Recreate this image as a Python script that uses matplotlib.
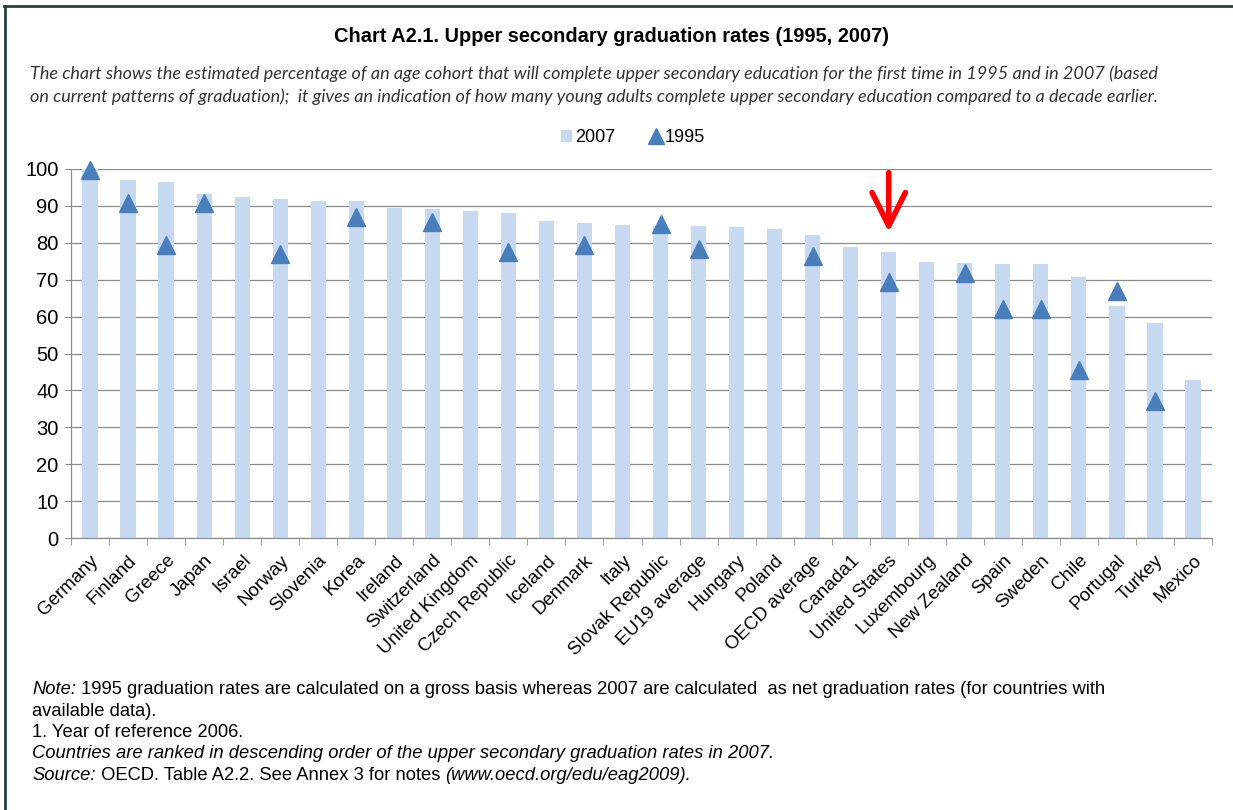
"""
Chart A2.1 - upper secondary graduation rates, 1995 vs 2007 (OECD EAG 2009).
Bars for 2007, triangles for 1995.
"""

import matplotlib
matplotlib.use("Agg")
import matplotlib.pyplot as plt
import matplotlib.patches as mpatches
from matplotlib.lines import Line2D


countries = [
    "Germany", "Finland", "Greece", "Japan", "Israel", "Norway", "Slovenia",
    "Korea", "Ireland", "Switzerland", "United Kingdom", "Czech Republic",
    "Iceland", "Denmark", "Italy", "Slovak Republic", "EU19 average",
    "Hungary", "Poland", "OECD average", "Canada1", "United States",
    "Luxembourg", "New Zealand", "Spain", "Sweden", "Chile", "Portugal",
    "Turkey", "Mexico",
]
rate_2007 = [
    100, 97, 96.4, 93.1, 92.5, 92.0, 91.4,
    91.4, 89.5, 89.2, 88.7, 88.2,
    86.0, 85.5, 84.9, 84.5, 84.6,
    84.2, 83.8, 82.1, 78.9, 77.5,
    74.8, 74.6, 74.2, 74.2, 70.7, 63.0,
    58.3, 42.7,
]
# None = no 1995 data
rate_1995 = [
    99.8, 90.9, 79.3, 90.7, None, 77.0, None,
    87.1, None, 85.7, None, 77.6,
    None, 79.4, None, 85.1, 78.4,
    None, None, 76.5, None, 69.4,
    None, 71.9, 62.0, 62.0, 45.4, 66.9,
    37.0, None,
]
yticks = list(range(0, 101, 10))
highlight = "United States"

BAR_COLOR = "#c6d9f0"
TRI_COLOR = "#4a7ebb"
GRID_COLOR = "#8c8c8c"
FRAME_COLOR = "#27423e"

plt.rcParams["font.family"] = ["Liberation Sans", "DejaVu Sans"]

fig = plt.figure(figsize=(12.33, 8.10), dpi=100)
fig.patch.set_facecolor("white")
ax = fig.add_axes([71 / 1233, 1 - 538 / 810, (1212 - 71) / 1233, (538 - 169) / 810])

x = list(range(len(countries)))
ax.bar(x, rate_2007, width=0.4, color=BAR_COLOR, zorder=2, label="2007")

xs = [i for i, v in zip(x, rate_1995) if v is not None]
ys = [v for v in rate_1995 if v is not None]
ax.plot(xs, ys, linestyle="none", marker="^", markersize=13.5, color=TRI_COLOR,
        zorder=3, clip_on=False, label="1995")

# red arrow pointing at the US bar
ix = countries.index(highlight)
ax.annotate("", xy=(ix, 82.9), xytext=(ix, 99.0),
            arrowprops=dict(arrowstyle="->, head_length=1.2, head_width=0.6",
                            color="#ff0000", lw=4, shrinkA=0, shrinkB=0,
                            mutation_scale=20),
            zorder=5, annotation_clip=False)

ax.set_xlim(-0.5, len(countries) - 0.5)
ax.set_ylim(0, 100)
ax.set_yticks(yticks)
ax.tick_params(axis="y", labelsize=14.5, length=4, color=GRID_COLOR, pad=5)
ax.yaxis.grid(True, color=GRID_COLOR, lw=0.9, zorder=0)
ax.set_axisbelow(True)

ax.set_xticks(x)
ax.set_xticklabels(countries, rotation=45, ha="right", rotation_mode="anchor",
                   fontsize=13.5)
ax.tick_params(axis="x", which="major", length=0, pad=10)
ax.set_xticks([i - 0.5 for i in range(len(countries) + 1)], minor=True)
ax.tick_params(axis="x", which="minor", length=5, color=GRID_COLOR)

for side in ("top", "right"):
    ax.spines[side].set_visible(False)
for side in ("left", "bottom"):
    ax.spines[side].set_color(GRID_COLOR)
    ax.spines[side].set_linewidth(0.9)

# titles
fig.text(611 / 1233, 1 - 37 / 810, "Chart A2.1. Upper secondary graduation rates (1995, 2007)",
         ha="center", va="center", fontsize=14.4, fontweight="bold")
sub = ("The chart shows the estimated percentage of an age cohort that will complete upper "
       "secondary education for the first time in 1995 and in 2007 (based\n"
       "on current patterns of graduation);  it gives an indication of how many young adults "
       "complete upper secondary education compared to a decade earlier.")
fig.text(30 / 1233, 1 - 85 / 810, sub, ha="left", va="center", fontsize=13,
         style="italic", family=["Lato", "DejaVu Sans"], color="#333333",
         linespacing=1.5)

# legend
handles = [
    mpatches.Patch(facecolor=BAR_COLOR, label="2007"),
    Line2D([], [], linestyle="none", marker="^", markersize=11, color=TRI_COLOR, label="1995"),
]
fig.legend(handles=handles, loc="center", bbox_to_anchor=(633 / 1233, 1 - 138 / 810),
           ncol=2, frameon=False, fontsize=13, handlelength=0.6, handleheight=0.6,
           handletextpad=0.15, columnspacing=2.0)

# notes, mixed italic / regular pieces per line
notes = [
    [("Note:", "italic"), (" 1995 graduation rates are calculated on a gross basis whereas 2007 "
                           "are calculated  as net graduation rates (for countries with", "normal")],
    [("available data).", "normal")],
    [("1. Year of reference 2006.", "normal")],
    [("Countries are ranked in descending order of the upper secondary graduation rates in 2007.",
      "italic")],
    [("Source:", "italic"), (" OECD. Table A2.2. See Annex 3 for notes ", "normal"),
     ("(www.oecd.org/edu/eag2009).", "italic")],
]
y0 = 690
for k, pieces in enumerate(notes):
    yy = 1 - (y0 + k * 21.3) / 810
    prev = None
    for txt, st in pieces:
        if prev is None:
            prev = fig.text(32 / 1233, yy, txt, ha="left", va="center",
                            fontsize=13.2, style=st)
        else:
            prev = ax.annotate(txt, xy=(1, 0), xycoords=prev, ha="left", va="bottom",
                               fontsize=13.2, style=st, annotation_clip=False)

# frame on top and left edges
fig.add_artist(Line2D([4 / 1233, 1], [1 - 6 / 810] * 2, color=FRAME_COLOR, lw=2,
                      transform=fig.transFigure))
fig.add_artist(Line2D([5 / 1233] * 2, [0, 1 - 6 / 810], color=FRAME_COLOR, lw=2,
                      transform=fig.transFigure))

fig.savefig("out.png", dpi=100, facecolor="white")
